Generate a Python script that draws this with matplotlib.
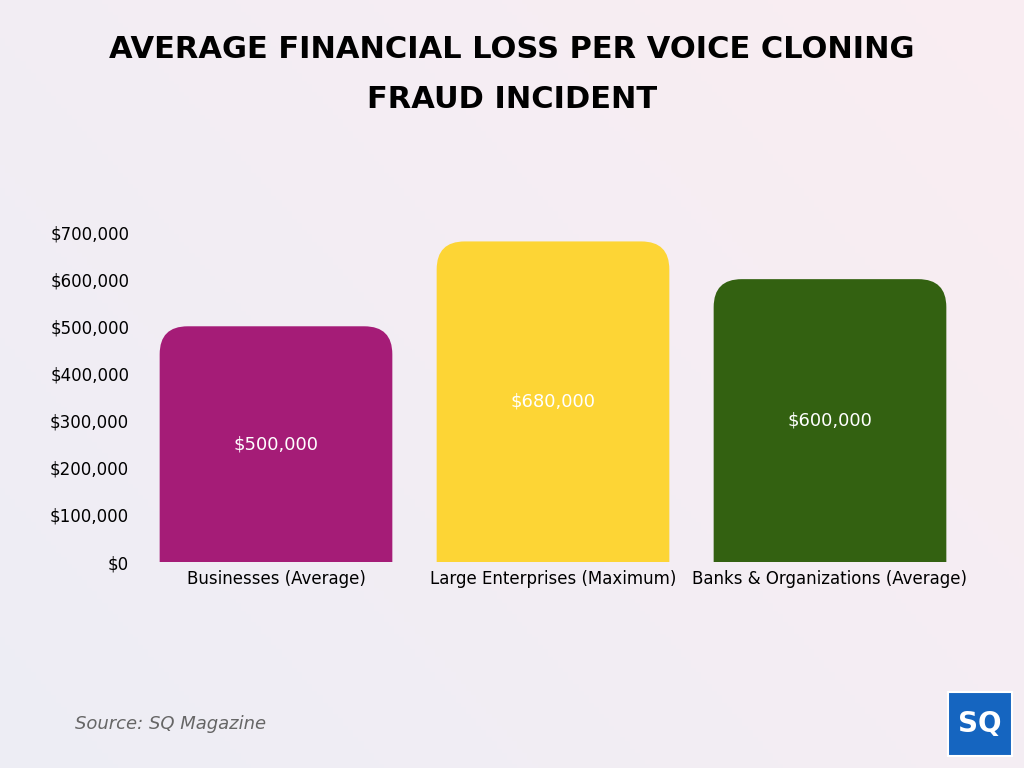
import matplotlib
matplotlib.use("Agg")
import matplotlib.pyplot as plt
from matplotlib.patches import FancyBboxPatch, Rectangle
import numpy as np

categories = ["Businesses (Average)", "Large Enterprises (Maximum)", "Banks & Organizations (Average)"]
values = [500000, 680000, 600000]
labels = ["$500,000", "$680,000", "$600,000"]
colors = ["#A51C77", "#FDD535", "#336111"]
yticks = [0, 100000, 200000, 300000, 400000, 500000, 600000, 700000]

fig = plt.figure(figsize=(10.24, 7.68), dpi=100)

# soft background gradient
bg = fig.add_axes([0, 0, 1, 1], zorder=-1)
gx, gy = np.meshgrid(np.linspace(0, 1, 200), np.linspace(0, 1, 200))
c1 = np.array([0.93, 0.93, 0.96])
c2 = np.array([0.98, 0.93, 0.95])
t = (gx * 0.6 + (1 - gy) * 0.4)[..., None]
bg.imshow(c1 * (1 - t) + c2 * t, extent=[0, 1, 0, 1], aspect="auto")
bg.axis("off")

ax = fig.add_axes([137.5 / 1024, 1 - 562 / 768, 831 / 1024, 330 / 768])
ax.set_xlim(-0.5, 2.5)
ax.set_ylim(0, 700000)
ax.patch.set_alpha(0)

w = 0.84
px_x = 277.0
px_y = 330.0 / 700000
r = 28
for i, (v, c, lab) in enumerate(zip(values, colors, labels)):
    p = FancyBboxPatch((i - w / 2, -100000), w, v + 100000,
                       boxstyle=f"round,pad=0,rounding_size={r / px_x}",
                       mutation_aspect=(1 / px_y) * px_x,
                       facecolor=c, edgecolor="none")
    ax.add_patch(p)
    ax.text(i, v / 2, lab, ha="center", va="center", color="white", fontsize=13)

ax.set_xticks(range(3))
ax.set_xticklabels(categories, fontsize=12)
ax.set_yticks(yticks)
ax.set_yticklabels([f"${v:,}" for v in yticks], fontsize=12)
ax.tick_params(length=0, pad=6)
for s in ax.spines.values():
    s.set_visible(False)

fig.text(0.5, 1 - 50 / 768, "AVERAGE FINANCIAL LOSS PER VOICE CLONING", ha="center", va="center",
         fontsize=22, fontweight="heavy", color="black")
fig.text(0.5, 1 - 100 / 768, "FRAUD INCIDENT", ha="center", va="center",
         fontsize=22, fontweight="heavy", color="black")
fig.text(75 / 1024, 1 - 724 / 768, "Source: SQ Magazine", ha="left", va="center",
         fontsize=13, style="italic", color="#666666")

fig.patches.append(Rectangle((948 / 1024, 1 - 756 / 768), 64 / 1024, 64 / 768,
                             transform=fig.transFigure, facecolor="#1565C0", edgecolor="white", lw=1.5))
fig.text(980 / 1024, 1 - 724 / 768, "SQ", ha="center", va="center", fontsize=20,
         fontweight="bold", color="white")

fig.savefig("out.png", dpi=100)
